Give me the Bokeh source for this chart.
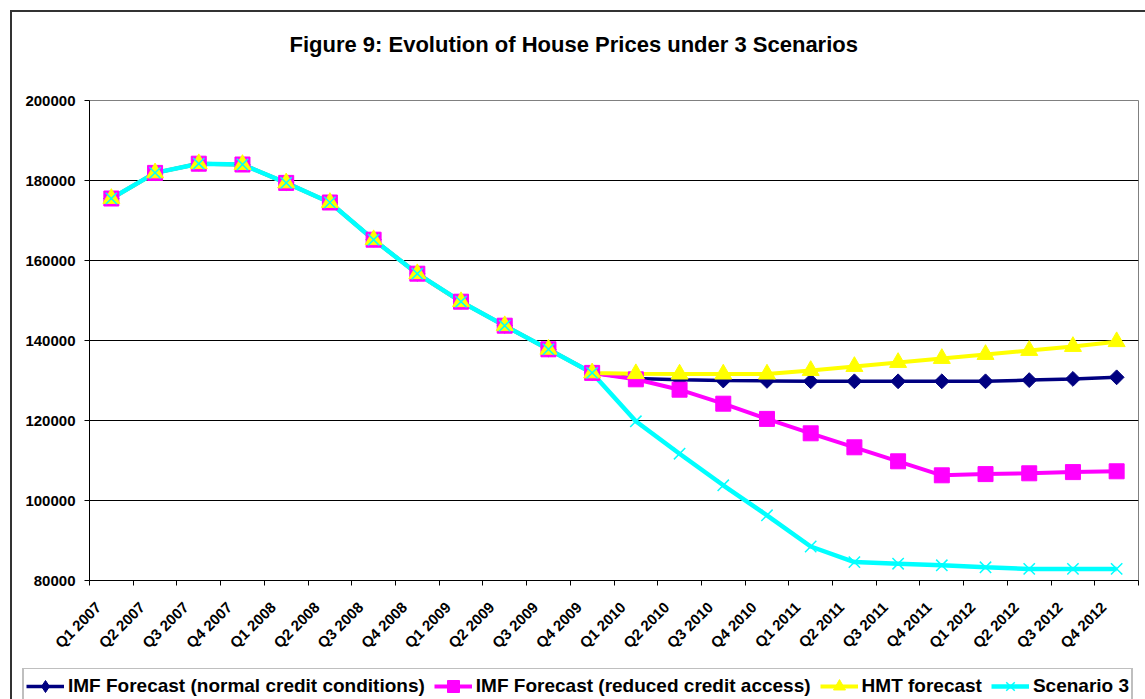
import math
from bokeh.plotting import figure
from bokeh.layouts import column
from bokeh.models import (FixedTicker, Legend, LegendItem, Range1d, NumeralTickFormatter)
from bokeh.embed import file_html
from bokeh.resources import INLINE

quarters = ["Q1 2007", "Q2 2007", "Q3 2007", "Q4 2007",
            "Q1 2008", "Q2 2008", "Q3 2008", "Q4 2008",
            "Q1 2009", "Q2 2009", "Q3 2009", "Q4 2009",
            "Q1 2010", "Q2 2010", "Q3 2010", "Q4 2010",
            "Q1 2011", "Q2 2011", "Q3 2011", "Q4 2011",
            "Q1 2012", "Q2 2012", "Q3 2012", "Q4 2012"]

history = [175500, 181900, 184200, 184000, 179400, 174500,
           165200, 156700, 149700, 143700, 137800, 131900]

imf_normal_fc = [130500, 130200, 130000, 129900, 129800, 129800,
                 129800, 129800, 129800, 130100, 130400, 130800]
imf_reduced_fc = [130300, 127700, 124200, 120400, 116800, 113300,
                  109800, 106300, 106600, 106800, 107100, 107300]
hmt_fc = [131700, 131600, 131600, 131600, 132500, 133500,
          134500, 135500, 136500, 137500, 138500, 139700]
scenario3_fc = [119800, 111700, 103800, 96300, 88500, 84600,
                84200, 83800, 83300, 82900, 82900, 82900]

series_names = ["IMF Forecast (normal credit conditions)",
                "IMF Forecast (reduced credit access)",
                "HMT forecast",
                "Scenario 3"]
series_values = [history + imf_normal_fc,
                 history + imf_reduced_fc,
                 history + hmt_fc,
                 history + scenario3_fc]

y_ticks = [80000, 100000, 120000, 140000, 160000, 180000, 200000]

FONT = "Liberation Sans"
UNIT = 20          # data units per category
LABEL_SHIFT = 6    # shift of rotated labels to the left
W = 1133
BL, BR = 77, 7     # common left/right borders of title strip and chart

colors = ["#000080", "#FF00FF", "#FFFF00", "#00FFFF"]
line_widths = [3.5, 4, 4, 4.5]
markers = [dict(marker="square", angle=math.pi / 4, size=10.5),
           dict(marker="square", size=15),
           dict(marker="triangle", size=17),
           dict(marker="x", size=16, line_width=1.5)]
legend_markers = [dict(marker="diamond", size=16),
                  dict(marker="square", size=15),
                  dict(marker="triangle", size=17),
                  dict(marker="x", size=16, line_width=1.5)]

xs = [UNIT * i + UNIT / 2 for i in range(len(quarters))]

# ---- title strip ----
tf = figure(width=W, height=60, output_backend="svg", toolbar_location=None,
            x_axis_type=None, y_axis_type=None, x_range=Range1d(0, 1), y_range=Range1d(0, 1),
            min_border_left=BL, min_border_right=BR, min_border_top=49, min_border_bottom=0,
            outline_line_color=None, border_fill_color="white")
tf.title.text = "Figure 9: Evolution of House Prices under 3 Scenarios"
tf.title.align = "left"
tf.title.offset = 200
tf.title.text_font = FONT
tf.title.text_font_size = "22px"
tf.title.text_font_style = "bold"
tf.title.text_color = "black"

# ---- main chart ----
p = figure(width=W, height=596, output_backend="svg", toolbar_location=None,
           x_range=Range1d(0, UNIT * len(quarters)), y_range=Range1d(80000, 200000),
           min_border_left=BL, min_border_right=BR, min_border_top=28, min_border_bottom=88)

p.outline_line_color = "#808080"
p.outline_line_width = 1
p.background_fill_color = "white"
p.border_fill_color = "white"

p.yaxis.ticker = FixedTicker(ticks=y_ticks)
p.yaxis.formatter = NumeralTickFormatter(format="0")
p.yaxis.major_label_text_font = FONT
p.yaxis.major_label_text_font_size = "15px"
p.yaxis.major_label_text_font_style = "bold"
p.yaxis.major_label_text_color = "black"
p.yaxis.major_tick_out = 5
p.yaxis.major_tick_in = 0
p.yaxis.minor_tick_line_color = None
p.yaxis.axis_line_color = "black"
p.yaxis.major_tick_line_color = "black"
p.yaxis.major_label_standoff = 9

label_ticks = [UNIT * i + UNIT / 2 - LABEL_SHIFT for i in range(len(quarters))]
bound_ticks = [UNIT * i for i in range(len(quarters) + 1)]
p.xaxis.ticker = FixedTicker(ticks=label_ticks, minor_ticks=bound_ticks)
p.xaxis.major_label_overrides = {t: q for t, q in zip(label_ticks, quarters)}
p.xaxis.major_label_orientation = math.pi / 4
p.xaxis.major_label_text_font = FONT
p.xaxis.major_label_text_font_size = "15px"
p.xaxis.major_label_text_font_style = "bold"
p.xaxis.major_label_text_color = "black"
p.xaxis.major_tick_line_color = None
p.xaxis.major_tick_out = 0
p.xaxis.major_tick_in = 0
p.xaxis.minor_tick_line_color = "black"
p.xaxis.minor_tick_out = 5
p.xaxis.minor_tick_in = 0
p.xaxis.axis_line_color = "black"
p.xaxis.major_label_standoff = 19

p.xgrid.grid_line_color = None
p.ygrid.ticker = FixedTicker(ticks=y_ticks[1:-1])
p.ygrid.grid_line_color = "black"
p.ygrid.grid_line_width = 1

for vals, c, lw in zip(series_values, colors, line_widths):
    p.line(xs, vals, line_color=c, line_width=lw)
for vals, c, mk in zip(series_values, colors, markers):
    p.scatter(xs, vals, fill_color=c, line_color=c, **mk)

# ---- legend strip ----
lg = figure(width=W, height=31, output_backend="svg", toolbar_location=None,
            x_axis_type=None, y_axis_type=None, x_range=Range1d(0, 1), y_range=Range1d(0, 1),
            min_border_left=0, min_border_right=0, min_border_top=0, min_border_bottom=0,
            outline_line_color=None, border_fill_color="white")
if "frame_align" in lg.properties():
    lg.frame_align = False
items = []
for name, vals, c, lw, mk in zip(series_names, series_values, colors, line_widths, legend_markers):
    # same series, but outside this strip's ranges: only the legend swatch shows
    lr = lg.line(xs, vals, line_color=c, line_width=lw)
    mr = lg.scatter(xs, vals, fill_color=c, line_color=c, **mk)
    items.append(LegendItem(label=name, renderers=[lr, mr]))
legend = Legend(items=items, orientation="horizontal", location=(10, -6),
                label_text_font=FONT, label_text_font_size="19px",
                label_text_font_style="bold", label_text_color="black",
                glyph_width=38, glyph_height=30, label_height=22, label_standoff=4,
                spacing=9, padding=2, margin=0,
                border_line_color="#808080", border_line_width=2,
                background_fill_color="white", background_fill_alpha=1)
lg.add_layout(legend)

page = column(tf, p, lg, spacing=0,
              styles={"margin-left": "10px", "margin-top": "10px",
                      "border-left": "2px solid #333333", "border-top": "2px solid #333333"})

open("out.html", "w").write(file_html(page, INLINE))
